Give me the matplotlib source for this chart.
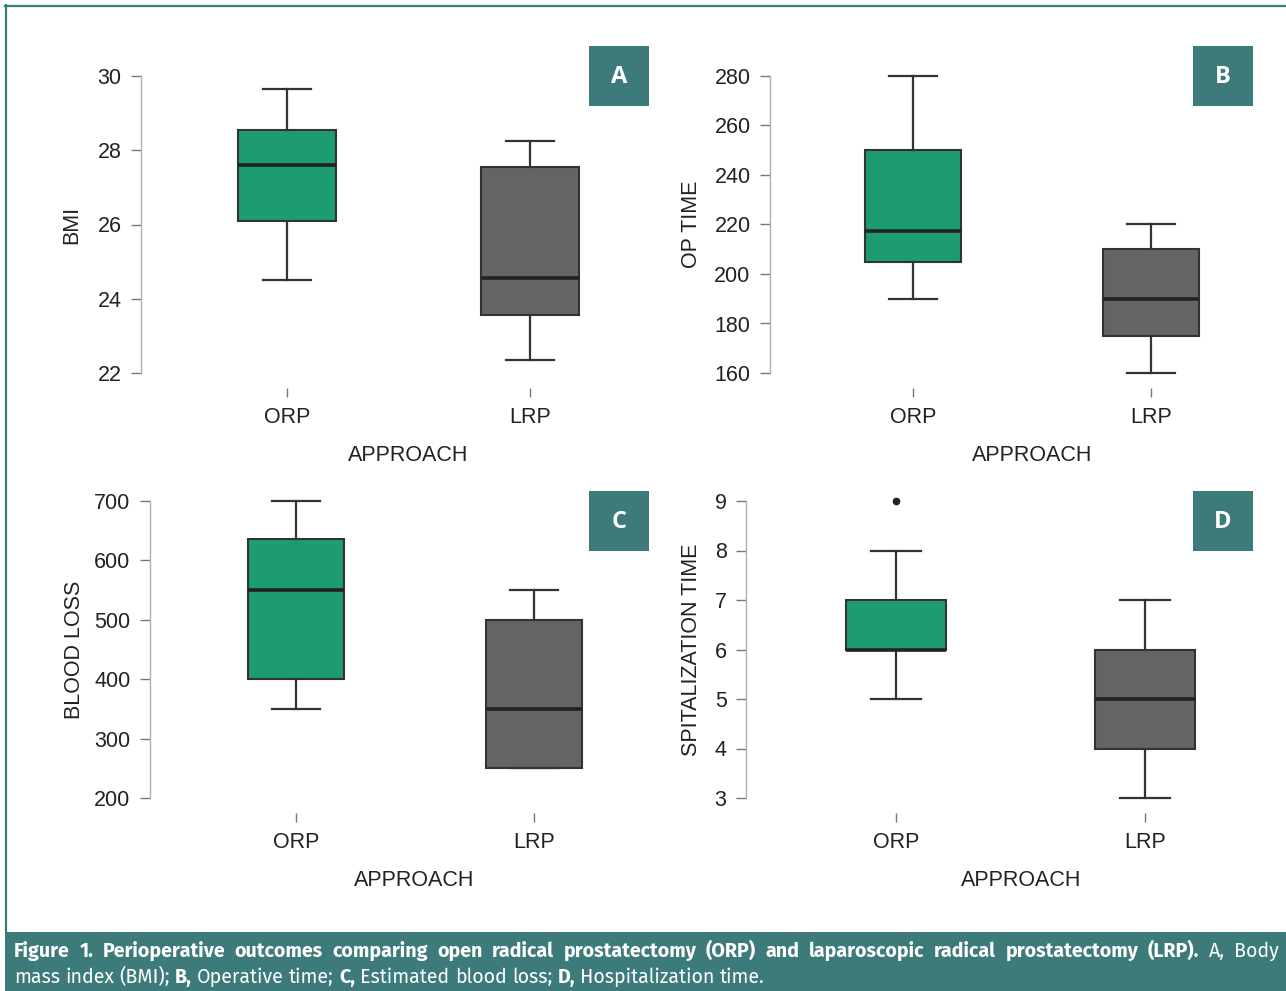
import matplotlib
matplotlib.use("Agg")
import matplotlib.pyplot as plt
from matplotlib.patches import Rectangle

# ---- data ----
groups = ["ORP", "LRP"]

bmi_whislo = [24.5, 22.35]
bmi_q1 = [26.1, 23.55]
bmi_med = [27.6, 24.55]
bmi_q3 = [28.55, 27.55]
bmi_whishi = [29.65, 28.25]
bmi_ticks = [22, 24, 26, 28, 30]

optime_whislo = [190, 160]
optime_q1 = [205, 175]
optime_med = [217.5, 190]
optime_q3 = [250, 210]
optime_whishi = [280, 220]
optime_ticks = [160, 180, 200, 220, 240, 260, 280]

blood_whislo = [350, 250]
blood_q1 = [400, 250]
blood_med = [550, 350]
blood_q3 = [636, 500]
blood_whishi = [700, 550]
blood_ticks = [200, 300, 400, 500, 600, 700]

hosp_whislo = [5, 3]
hosp_q1 = [6, 4]
hosp_med = [6, 5]
hosp_q3 = [7, 6]
hosp_whishi = [8, 7]
hosp_fliers = [[9], []]
hosp_ticks = [3, 4, 5, 6, 7, 8, 9]

# ---- styling ----
W, H = 1286, 991
TEAL = "#3d7b7b"
GREEN = "#1d9b73"
GREY = "#646464"
EDGE = "#333333"
FONT = "Liberation Sans"
CAP_FONT = "Fira Sans"

fig = plt.figure(figsize=(W / 100, H / 100), dpi=100)


def fx(x):
    return x / W


def fy(y):
    return 1 - y / H


def make_stats(lo, q1, med, q3, hi, fliers=None):
    out = []
    for i in range(len(groups)):
        out.append(dict(whislo=lo[i], q1=q1[i], med=med[i], q3=q3[i], whishi=hi[i],
                        fliers=fliers[i] if fliers else [], label=groups[i]))
    return out


panels = [
    # stats, ticks, ylabel, letter, axis_x, top, bottom, orp_x, lrp_x, ylab_x, xlab_x, xlab_y, box_x, box_y
    (make_stats(bmi_whislo, bmi_q1, bmi_med, bmi_q3, bmi_whishi), bmi_ticks, "BMI", "A",
     141, 76, 373, 287, 530, 72, 408, 455, 589, 46),
    (make_stats(optime_whislo, optime_q1, optime_med, optime_q3, optime_whishi), optime_ticks, "OP TIME", "B",
     770, 76, 373, 913, 1151, 692, 1032, 455, 1193, 46),
    (make_stats(blood_whislo, blood_q1, blood_med, blood_q3, blood_whishi), blood_ticks, "BLOOD LOSS", "C",
     150, 501, 798, 296, 534, 74, 414, 880, 589, 491),
    (make_stats(hosp_whislo, hosp_q1, hosp_med, hosp_q3, hosp_whishi, hosp_fliers), hosp_ticks,
     "SPITALIZATION TIME", "D",
     746, 501, 798, 896, 1145, 692, 1021, 880, 1193, 491),
]

for (stats, ticks, ylab, letter, ax_x, top, bot, orp_x, lrp_x,
     ylab_x, xlab_x, xlab_y, bx, by) in panels:
    unit = lrp_x - orp_x
    right = lrp_x + 0.5 * unit
    ax = fig.add_axes([fx(ax_x), fy(bot), (right - ax_x) / W, (bot - top) / H])
    ax.set_xlim(1 - (orp_x - ax_x) / unit, 2.5)
    ax.set_ylim(ticks[0], ticks[-1])

    bp = ax.bxp(stats, positions=[1, 2], widths=0.4, capwidths=0.2, patch_artist=True,
                manage_ticks=False,
                boxprops=dict(edgecolor=EDGE, linewidth=1.5),
                whiskerprops=dict(color=EDGE, linewidth=1.6),
                capprops=dict(color=EDGE, linewidth=1.6),
                medianprops=dict(color="#222222", linewidth=2.6, solid_capstyle="butt"),
                flierprops=dict(marker="o", markerfacecolor="#222222", markeredgecolor="#222222",
                                markersize=4.5))
    for patch, c in zip(bp["boxes"], [GREEN, GREY]):
        patch.set_facecolor(c)
    for art in bp["whiskers"] + bp["caps"] + bp["medians"] + bp["fliers"] + bp["boxes"]:
        art.set_clip_on(False)

    for s in ["top", "right", "bottom"]:
        ax.spines[s].set_visible(False)
    ax.spines["left"].set_color("#b0b0b0")
    ax.spines["left"].set_linewidth(1.0)
    ax.spines["left"].set_bounds(ticks[0], ticks[-1])
    ax.spines["bottom"].set_position(("outward", 10.8))

    ax.set_yticks(ticks)
    ax.set_xticks([1, 2])
    ax.set_xticklabels(groups)
    ax.tick_params(axis="y", length=7, width=1.0, color="#777777", pad=7,
                   labelsize=15.5, labelcolor="#222222")
    ax.tick_params(axis="x", length=6.5, width=1.0, color="#777777", pad=7,
                   labelsize=15.5, labelcolor="#222222")
    for lab in ax.get_xticklabels() + ax.get_yticklabels():
        lab.set_fontfamily(FONT)
    ax.patch.set_alpha(0)

    fig.text(fx(ylab_x), fy((top + bot) / 2), ylab, rotation=90, ha="center", va="center",
             fontsize=15.5, family=FONT, color="#222222")
    fig.text(fx(xlab_x), fy(xlab_y), "APPROACH", ha="center", va="center",
             fontsize=15.5, family=FONT, color="#222222")

    fig.patches.append(Rectangle((fx(bx), fy(by + 60)), 60 / W, 60 / H, transform=fig.transFigure,
                                 facecolor=TEAL, edgecolor="none"))
    fig.text(fx(bx + 30), fy(by + 31), letter, ha="center", va="center", color="white",
             fontsize=17, fontweight="bold", family="Open Sans")

# ---- frame and caption bar ----
fig.add_artist(plt.Line2D([fx(5), 1], [fy(6), fy(6)], color=TEAL, linewidth=1.6,
                          transform=fig.transFigure))
fig.add_artist(plt.Line2D([fx(6), fx(6)], [fy(5), fy(932)], color=TEAL, linewidth=1.6,
                          transform=fig.transFigure))
fig.patches.append(Rectangle((fx(5), 0), 1 - fx(5), (H - 932) / H, transform=fig.transFigure,
                             facecolor=TEAL, edgecolor="none"))

cap_line1 = [(w, True) for w in
             "Figure 1. Perioperative outcomes comparing open radical prostatectomy (ORP) and laparoscopic radical prostatectomy (LRP).".split()]
cap_line1 += [("A,", False), ("Body", False)]
cap_line2 = [("mass", False), ("index", False), ("(BMI);", False), ("B,", True), ("Operative", False),
             ("time;", False), ("C,", True), ("Estimated", False), ("blood", False), ("loss;", False),
             ("D,", True), ("Hospitalization", False), ("time.", False)]

renderer = fig.canvas.get_renderer()


def word_width(w, bold, fs):
    t = fig.text(0, 0, w, fontsize=fs, family=CAP_FONT, fontweight="bold" if bold else "normal")
    wd = t.get_window_extent(renderer).width
    t.remove()
    return wd


def space_width(fs):
    return word_width("a a", False, fs) - word_width("aa", False, fs)


def line_width(words, fs):
    return sum(word_width(w, b, fs) for w, b in words) + space_width(fs) * (len(words) - 1)


# fit the second line to its width in the reference
cap_fs = 10 * 749 / line_width(cap_line2, 10)


def draw_line(words, x0, baseline, fs, x1=None):
    widths = [word_width(w, b, fs) for w, b in words]
    sp = space_width(fs)
    if x1 is not None:
        sp = (x1 - x0 - sum(widths)) / (len(words) - 1)
    x = x0
    for (w, b), wd in zip(words, widths):
        fig.text(fx(x), fy(baseline), w, fontsize=fs, family=CAP_FONT, color="white",
                 fontweight="bold" if b else "normal", ha="left", va="baseline")
        x += wd + sp


draw_line(cap_line1, 14, 957, cap_fs, x1=1279)
draw_line(cap_line2, 14, 983, cap_fs)

fig.savefig("out.png", dpi=100)
